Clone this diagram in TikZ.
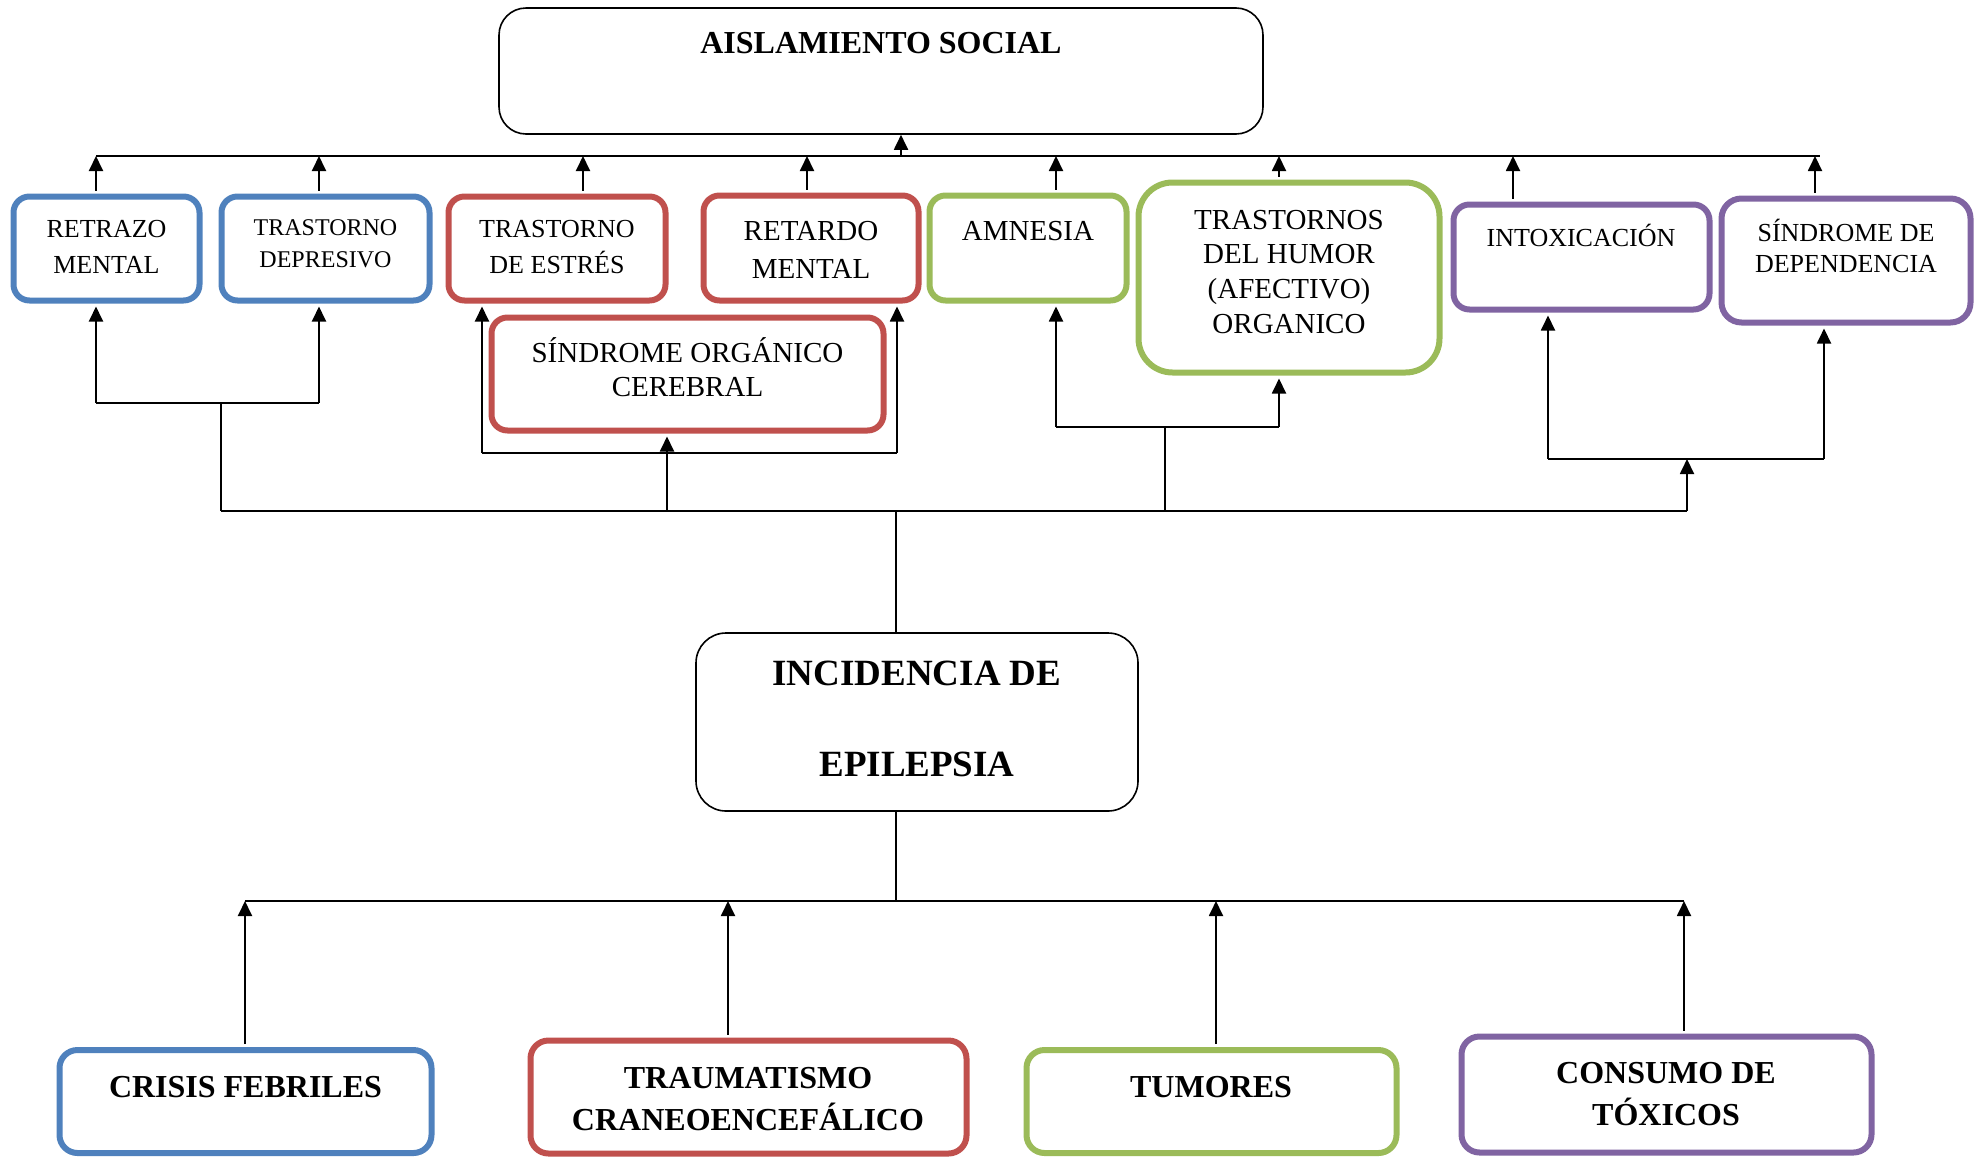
\documentclass[tikz,border=0pt]{standalone}
\usepackage{fontspec}
\setmainfont{Liberation Serif}
\usetikzlibrary{arrows.meta}
\definecolor{cblue}{HTML}{4F81BD}
\definecolor{cred}{HTML}{C0504D}
\definecolor{cgreen}{HTML}{9BBB59}
\definecolor{cpurple}{HTML}{8064A2}
\begin{document}
\begin{tikzpicture}[x=1pt,y=-1pt,
  cbox/.style={draw, rounded corners=16pt, line width=6pt, inner sep=0pt, fill=white},
  tbox/.style={draw=black, rounded corners=27pt, line width=1.6pt, inner sep=0pt, fill=white},
  ln/.style={line width=1.9pt},
  arr/.style={line width=1.9pt, -{Triangle[length=15pt,width=14pt]}},
  inarr/.style={arr, shorten >=3pt},
  outarr/.style={arr, shorten <=3pt},
  tx/.style={anchor=base, inner sep=0pt},
  fa/.style={tx, font=\fontsize{24}{28}\selectfont},
  fb/.style={tx, font=\fontsize{26}{30}\selectfont},
  fc/.style={tx, font=\fontsize{29}{33}\selectfont},
  fd/.style={tx, font=\fontsize{32}{36}\selectfont\bfseries},
  fe/.style={tx, font=\fontsize{37}{40}\selectfont\bfseries}]
\useasboundingbox (0,0) rectangle (1984,1157);

% boxes
\node[tbox, minimum width=764pt, minimum height=126pt] (aisl) at (881,71) {};
\node[cbox, draw=cblue, minimum width=186pt, minimum height=104pt] (retrazo) at (106.5,248.5) {};
\node[cbox, draw=cblue, minimum width=208pt, minimum height=104pt] (depresivo) at (325.5,248.5) {};
\node[cbox, draw=cred, minimum width=217pt, minimum height=104pt] (estres) at (557,248.5) {};
\node[cbox, draw=cred, minimum width=215pt, minimum height=105pt] (retardo) at (811,248) {};
\node[cbox, draw=cgreen, minimum width=197pt, minimum height=105pt] (amnesia) at (1028,248) {};
\node[cbox, draw=cgreen, rounded corners=34pt, minimum width=301pt, minimum height=190pt] (humor) at (1289,277.5) {};
\node[cbox, draw=cpurple, minimum width=256pt, minimum height=105pt] (intox) at (1581.5,257) {};
\node[cbox, draw=cpurple, rounded corners=20pt, minimum width=249pt, minimum height=124pt] (dep) at (1846,260.5) {};
\node[cbox, draw=cred, minimum width=392pt, minimum height=113pt] (sog) at (687.5,374) {};
\node[tbox, rounded corners=30pt, minimum width=442pt, minimum height=178pt] (incid) at (917,722) {};
\node[cbox, draw=cblue, rounded corners=18pt, minimum width=372pt, minimum height=103pt] (crisis) at (245.5,1101.5) {};
\node[cbox, draw=cred, rounded corners=18pt, minimum width=436pt, minimum height=113pt] (trauma) at (748.5,1097) {};
\node[cbox, draw=cgreen, rounded corners=18pt, minimum width=370pt, minimum height=103pt] (tumores) at (1211.5,1101.5) {};
\node[cbox, draw=cpurple, rounded corners=18pt, minimum width=410pt, minimum height=116pt] (consumo) at (1666.5,1094.5) {};

% top bus
\coordinate (tL) at (96,156);
\coordinate (tR) at (1820,156);
\coordinate (ta) at (901,156);
\coordinate (t1) at (96,156);
\coordinate (t2) at (319,156);
\coordinate (t3) at (583,156);
\coordinate (t4) at (807,156);
\coordinate (t5) at (1056,156);
\coordinate (t6) at (1279,156);
\coordinate (t7) at (1513,156);
\coordinate (t8) at (1815,156);
\draw[ln] (tL) -- (tR);
\draw[arr] (ta) -- (ta |- aisl.south);
\draw[outarr] (t1 |- retrazo.north) -- (t1);
\draw[outarr] (t2 |- depresivo.north) -- (t2);
\draw[outarr] (t3 |- estres.north) -- (t3);
\draw[outarr] (t4 |- retardo.north) -- (t4);
\draw[outarr] (t5 |- amnesia.north) -- (t5);
\draw[outarr] (t6 |- humor.north) -- (t6);
\draw[outarr] (t7 |- intox.north) -- (t7);
\draw[outarr] (t8 |- dep.north) -- (t8);

% middle bus
\coordinate (m1) at (221,511);
\coordinate (mR) at (1687,511);
\coordinate (mi) at (896,511);
\coordinate (m2) at (667,511);
\coordinate (m3) at (1165,511);
\coordinate (b1L) at (96,403);
\coordinate (b1C) at (221,403);
\coordinate (b1R) at (319,403);
\coordinate (r1) at (482,453);
\coordinate (r2) at (897,453);
\coordinate (g1) at (1056,427);
\coordinate (gC) at (1165,427);
\coordinate (g2) at (1279,427);
\coordinate (p1) at (1548,459);
\coordinate (pC) at (1687,459);
\coordinate (p2) at (1824,459);
\draw[ln] (m1) -- (mR);
\draw[ln] (m1) -- (b1C);
\draw[ln] (b1L) -- (b1R);
\draw[inarr] (b1L) -- (b1L |- retrazo.south);
\draw[inarr] (b1R) -- (b1R |- depresivo.south);
\draw[ln] (r1) -- (r2);
\draw[inarr] (r1) -- (r1 |- estres.south);
\draw[inarr] (r2) -- (r2 |- retardo.south);
\draw[inarr] (m2) -- (m2 |- sog.south);
\draw[ln] (m3) -- (gC);
\draw[ln] (g1) -- (g2);
\draw[inarr] (g1) -- (g1 |- amnesia.south);
\draw[inarr] (g2) -- (g2 |- humor.south);
\draw[arr] (mR) -- (pC);
\draw[ln] (p1) -- (p2);
\draw[inarr] (p1) -- (p1 |- intox.south);
\draw[inarr] (p2) -- (p2 |- dep.south);
\draw[ln] (mi) -- (mi |- incid.north);

% bottom bus
\coordinate (bi) at (896,901);
\coordinate (bL) at (245,901);
\coordinate (bR) at (1684,901);
\coordinate (u2) at (728,901);
\coordinate (u3) at (1216,901);
\draw[ln] (mi |- incid.south) -- (bi);
\draw[ln] (bL) -- (bR);
\draw[outarr] (bL |- crisis.north) -- (bL);
\draw[outarr] (u2 |- trauma.north) -- (u2);
\draw[outarr] (u3 |- tumores.north) -- (u3);
\draw[outarr] (bR |- consumo.north) -- (bR);

% texts
\node[fd] (x1) at (881,53) {AISLAMIENTO SOCIAL};
\node[fb] (x2) at (106.5,237) {RETRAZO};
\node[fb] (x3) at (106.5,273) {MENTAL};
\node[fa] (x4) at (325.5,235) {TRASTORNO};
\node[fa] (x5) at (325.5,267) {DEPRESIVO};
\node[fb] (x6) at (557,237) {TRASTORNO};
\node[fb] (x7) at (557,273) {DE ESTRÉS};
\node[fc] (x8) at (811,240) {RETARDO};
\node[fc] (x9) at (811,278) {MENTAL};
\node[fc] (x10) at (1028,240) {AMNESIA};
\node[fc] (x11) at (1289,229) {TRASTORNOS};
\node[fc] (x12) at (1289,263) {DEL HUMOR};
\node[fc] (x13) at (1289,298) {(AFECTIVO)};
\node[fc] (x14) at (1289,333) {ORGANICO};
\node[fb] (x15) at (1581,246) {INTOXICACIÓN};
\node[fb] (x16) at (1846,241) {SÍNDROME DE};
\node[fb] (x17) at (1846,272) {DEPENDENCIA};
\node[fc] (x18) at (687.5,362) {SÍNDROME ORGÁNICO};
\node[fc] (x19) at (687.5,396) {CEREBRAL};
\node[fe] (x20) at (917,685) {INCIDENCIA DE};
\node[fe] (x21) at (917,776) {EPILEPSIA};
\node[fd] (x22) at (245.5,1097) {CRISIS FEBRILES};
\node[fd] (x23) at (748,1088) {TRAUMATISMO};
\node[fd] (x24) at (748,1130) {CRANEOENCEFÁLICO};
\node[fd] (x25) at (1211,1097) {TUMORES};
\node[fd] (x26) at (1666,1083) {CONSUMO DE};
\node[fd] (x27) at (1666,1125) {TÓXICOS};
\end{tikzpicture}
\end{document}
